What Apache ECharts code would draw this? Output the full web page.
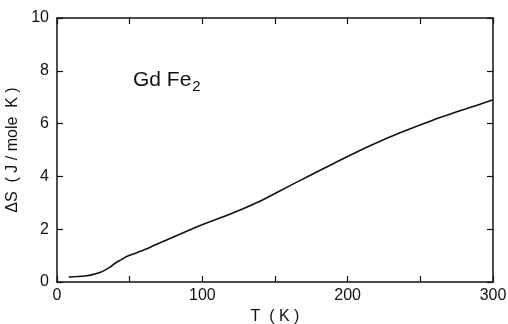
<!DOCTYPE html>
<html>
<head>
<meta charset="utf-8">
<script src="https://cdn.jsdelivr.net/npm/echarts@6/dist/echarts.min.js"></script>
<style>
  html, body { margin: 0; padding: 0; background: #fff; }
  #chart { width: 508px; height: 324px; }
</style>
</head>
<body>
<div id="chart"></div>
<script>
// GdFe2 entropy difference vs temperature
const temps = [8, 14, 19, 23, 26, 30, 33, 37, 40, 44, 47, 51, 54, 61, 67, 79, 90, 98, 112, 126, 140, 153, 167, 181, 195, 215, 236, 259, 282, 300];
const deltaS = [0.19, 0.21, 0.23, 0.26, 0.30, 0.37, 0.45, 0.58, 0.71, 0.84, 0.94, 1.03, 1.09, 1.24, 1.39, 1.68, 1.94, 2.13, 2.42, 2.73, 3.07, 3.44, 3.84, 4.23, 4.62, 5.15, 5.65, 6.14, 6.57, 6.90];
const xTicks = [0, 100, 200, 300];
const yTicks = [0, 2, 4, 6, 8, 10];

const FONT = "Liberation Sans";
const chart = echarts.init(document.getElementById("chart"), null, { renderer: "canvas" });

const axisCommon = {
  axisLine: { show: true, onZero: false, lineStyle: { color: "#111", width: 1.5 } },
  axisTick: { show: true, inside: true, length: 6, lineStyle: { color: "#111", width: 1.2 } },
  splitLine: { show: false },
};

chart.setOption({
  animation: false,
  backgroundColor: "#fff",
  grid: { left: 57, right: 15, top: 18, bottom: 42, outerBoundsMode: "none", containLabel: false },
  xAxis: [
    {
      ...axisCommon,
      type: "value", min: 0, max: 300, interval: 50, position: "bottom",
      axisLabel: {
        color: "#111", fontFamily: FONT, fontSize: 16, margin: 6,
        formatter: v => (xTicks.includes(v) ? String(v) : ""),
      },
      name: "T  ( K )", nameLocation: "middle", nameGap: 26,
      nameTextStyle: { color: "#111", fontFamily: FONT, fontSize: 16 },
    },
    {
      ...axisCommon,
      type: "value", min: 0, max: 300, interval: 50, position: "top",
      axisLabel: { show: false },
    },
  ],
  yAxis: [
    {
      ...axisCommon,
      type: "value", min: 0, max: 10, interval: 2, position: "left",
      axisLabel: {
        color: "#111", fontFamily: FONT, fontSize: 16, margin: 8,
        formatter: v => (yTicks.includes(v) ? String(v) : ""),
      },
      name: "ΔS  ( J / mole  K )", nameLocation: "middle", nameGap: 32,
      nameTextStyle: { color: "#111", fontFamily: FONT, fontSize: 16 },
    },
    {
      ...axisCommon,
      type: "value", min: 0, max: 10, interval: 2, position: "right",
      axisLabel: { show: false },
    },
  ],
  graphic: [{
    type: "text",
    left: 133, top: 70,
    style: {
      text: "{a|Gd Fe}{b|2}",
      rich: {
        a: { fontFamily: FONT, fontSize: 21, fill: "#111" },
        b: { fontFamily: FONT, fontSize: 15, fill: "#111", padding: [12, 0, 0, 1] },
      },
    },
  }],
  series: [{
    type: "line",
    data: temps.map((t, i) => [t, deltaS[i]]),
    smooth: 0.2,
    showSymbol: false,
    lineStyle: { color: "#111", width: 1.6 },
  }],
});
</script>
</body>
</html>
